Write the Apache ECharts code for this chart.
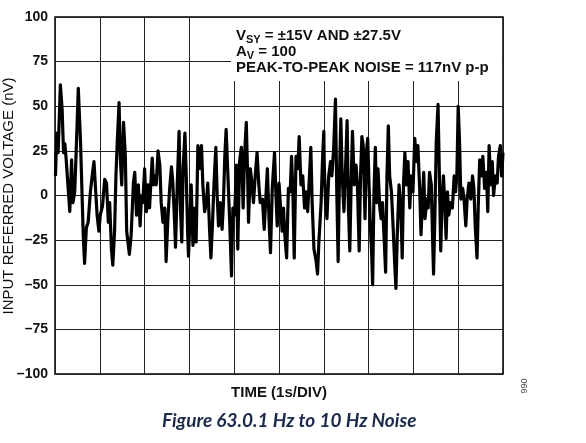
<!DOCTYPE html>
<html>
<head>
<meta charset="utf-8">
<script src="https://cdn.jsdelivr.net/npm/echarts@6/dist/echarts.min.js"></script>
<style>
  html, body { margin: 0; padding: 0; background: #fff; }
  #chart { width: 586px; height: 443px; }
</style>
</head>
<body>
<div id="chart"></div>
<script>
// time in seconds (1 s per division)
var timeS = [
  0.01, 0.04, 0.07, 0.12, 0.16, 0.19, 0.22, 0.25, 0.29, 0.33, 0.37, 0.40, 0.44, 0.48, 0.52, 0.57, 0.60, 0.63, 0.66, 0.70,
  0.74, 0.79, 0.84, 0.87, 0.90, 0.94, 0.98, 1.01, 1.06, 1.11, 1.15, 1.19, 1.22, 1.26, 1.29, 1.33, 1.36, 1.39, 1.43, 1.46,
  1.49, 1.53, 1.57, 1.60, 1.66, 1.70, 1.75, 1.78, 1.82, 1.86, 1.90, 1.93,
  1.96, 2.00, 2.04, 2.08, 2.11, 2.17, 2.20, 2.24, 2.26, 2.30, 2.34, 2.37, 2.41, 2.45, 2.48, 2.52, 2.56, 2.60, 2.63, 2.67,
  2.69, 2.73, 2.77, 2.80, 2.83, 2.86, 2.90, 2.93, 2.96, 2.98, 3.01, 3.04, 3.08, 3.12, 3.15, 3.19, 3.23, 3.27, 3.30, 3.34,
  3.38, 3.41, 3.45, 3.48, 3.51, 3.55, 3.59, 3.62, 3.65, 3.69, 3.73, 3.76, 3.79, 3.82, 3.86, 3.90, 3.94, 3.97,
  4.01, 4.05, 4.08, 4.12, 4.16, 4.20, 4.23, 4.27, 4.30, 4.32, 4.36, 4.40, 4.43, 4.47, 4.51, 4.55, 4.58, 4.63, 4.67, 4.70,
  4.74, 4.78, 4.81, 4.85, 4.90, 4.93, 4.96, 5.00, 5.04, 5.07, 5.10, 5.13, 5.17, 5.21, 5.25, 5.28, 5.31, 5.34, 5.38, 5.42,
  5.45, 5.49, 5.53, 5.57, 5.60, 5.64, 5.68, 5.71, 5.74, 5.78, 5.83, 5.86, 5.89, 5.94, 5.97, 6.00,
  6.01, 6.04, 6.07, 6.11, 6.15, 6.18, 6.22, 6.26, 6.29, 6.32, 6.35, 6.38, 6.41, 6.45, 6.49, 6.52, 6.55, 6.58, 6.61, 6.64,
  6.68, 6.72, 6.75, 6.79, 6.82, 6.85, 6.88, 6.92, 6.95, 6.98, 7.01, 7.04, 7.07, 7.09, 7.12, 7.15, 7.18, 7.21, 7.25, 7.28,
  7.31, 7.35, 7.38, 7.41, 7.44, 7.47, 7.51, 7.55, 7.58, 7.61, 7.64, 7.68, 7.72, 7.75, 7.78, 7.81, 7.84, 7.88, 7.92, 7.95, 7.99,
  8.03, 8.07, 8.10, 8.14, 8.17, 8.20, 8.23, 8.26, 8.30, 8.33, 8.36, 8.40, 8.43, 8.45, 8.48, 8.51, 8.55, 8.58, 8.61, 8.64,
  8.67, 8.70, 8.73, 8.76, 8.79, 8.83, 8.87, 8.91, 8.94, 8.97, 9.00, 9.03, 9.06, 9.10, 9.13, 9.17, 9.20, 9.24, 9.28, 9.32,
  9.35, 9.38, 9.42, 9.45, 9.48, 9.52, 9.55, 9.59, 9.63, 9.66, 9.69, 9.73, 9.76, 9.79, 9.83, 9.87, 9.90, 9.94, 9.97, 10.00
];
// input referred voltage (nV)
var noiseNV = [
  11, 35, 24, 62, 48, 24, 29, 20, 19, -9, 20, -4, 2, 30, 60, 30, 4, -22, -38, -18,
  -15, 2, 13, 19, 6, -11, -20, -11, -6, 9, 7, -15, -4, -30, -39, -20, 11, 30, 52, 20,
  6, 41, 22, -20, -33, -22, 7, 13, -11, 6, -17, 0,
  -4, 15, -9, 6, -7, 21, 6, 11, 6, 25, 17, -4, -15, -7, -37, -13, 4, 16, 7, -15,
  -29, 7, 36, -7, -26, 15, 35, 11, -20, -34, -15, 6, -28, -7, -26, 28, 15, 28, 6, -9,
  -4, 7, -19, -35, -19, 7, 27, 0, -17, -4, -19, -4, 22, 37, 11, -15, -45, -7,
  -11, 17, -30, 19, 27, -7, 22, 41, 11, -15, 15, 6, -4, 11, 24, 6, -4, -2, -19, -20,
  15, -15, -32, 4, 24, 2, -17, 7, 6, -20, -7, -22, -35, 4, 2, 22, 2, -35, 22, 15,
  33, 6, 11, -7, 2, -9, 11, 27, -4, -30, -37, -44, -26, -4, 19, 36,
  17, -4, -13, 11, 19, 11, 26, 54, 2, -37, 11, 43, 11, -9, 19, 42, -7, -31, 6, 36,
  6, 17, 6, -31, 11, 33, 28, -13, 24, 32, 6, -17, -34, -50, 2, 27, -4, 15, -7, -13,
  -4, -26, -43, 11, 39, 11, 2, -19, -37, -52, -22, 6, -7, -35, 7, 24, 6, 19, -7, 11, 2,
  32, 19, 28, 4, -22, -4, 13, -13, -2, -7, 13, 6, -26, -44, -11, 30, 51, 11, -31, -4,
  11, -4, -24, 2, -11, -4, -7, 11, 2, 11, 50, 30, -2, 4, -2, -17, -2, 7, -2, 11,
  4, -17, -35, -4, 20, 11, 22, 4, 13, -9, 28, 6, 19, 0, 11, 7, 22, 28, 11, 24
];
var yTicks = ['\u2013100', '\u201375', '\u201350', '\u201325', '0', '25', '50', '75', '100'];

var points = timeS.map(function (t, i) { return [t, noiseNV[i]]; });

var chart = echarts.init(document.getElementById('chart'), null, { renderer: 'canvas' });
var font = '"Liberation Sans", Arial, sans-serif';

var option = {
    animation: false,
    backgroundColor: '#fff',
    grid: {
        left: 55, right: 83, top: 17, bottom: 69, outerBoundsMode: 'none', containLabel: false,
        show: true, borderColor: '#000', borderWidth: 1.5, backgroundColor: 'transparent'
    },
    xAxis: {
        type: 'value', min: 0, max: 10, interval: 1,
        name: 'TIME (1s/DIV)', nameLocation: 'middle', nameGap: 11,
        nameTextStyle: { fontFamily: font, fontWeight: 'bold', fontSize: 15, color: '#111' },
        axisLine: { show: false }, axisTick: { show: false }, axisLabel: { show: false },
        splitLine: { show: true, lineStyle: { color: '#222', width: 1 } }
    },
    yAxis: {
        type: 'value', min: -100, max: 100, interval: 25,
        axisLine: { show: false }, axisTick: { show: false },
        axisLabel: {
            fontFamily: font, fontWeight: 'bold', fontSize: 14, color: '#111', margin: 7,
            formatter: function (v) { return yTicks[(v + 100) / 25]; }
        },
        splitLine: { show: true, lineStyle: { color: '#222', width: 1 } }
    },
    graphic: [
        {
            // y axis title, placed by hand so it hugs the left edge like the original
            type: 'text', z: 11, x: 9, y: 196, rotation: Math.PI / 2,
            style: { text: 'INPUT REFERRED VOLTAGE (nV)', fontFamily: font, fontSize: 15, fill: '#111', align: 'center', verticalAlign: 'middle' }
        },
        { type: 'rect', z: 10, shape: { x: 231, y: 18, width: 271, height: 63 }, style: { fill: '#fff' } },
        {
            type: 'text', z: 11, left: 236, top: 27,
            style: {
                text: '{b|V}{s|SY}{b| = \u00b115V AND \u00b127.5V}\n{b|A}{s|V}{b| = 100}\n{b|PEAK-TO-PEAK NOISE = 117nV p-p}',
                rich: {
                    b: { fontFamily: font, fontWeight: 'bold', fontSize: 15, fill: '#111', lineHeight: 16, verticalAlign: 'top' },
                    s: { fontFamily: font, fontWeight: 'bold', fontSize: 11, fill: '#111', lineHeight: 16, padding: [7, 0, 0, 0] }
                }
            }
        },
        {
            type: 'text', z: 11, x: 523, y: 386, rotation: -Math.PI / 2,
            style: { text: '066', fontFamily: font, fontSize: 9, fill: '#444', align: 'center', verticalAlign: 'middle' }
        },
        {
            type: 'text', z: 11, left: 162, top: 411,
            style: { text: 'Figure 63.0.1 Hz to 10 Hz Noise', fontFamily: 'Lato, "Open Sans", sans-serif', fontStyle: 'italic', fontWeight: 'bold', fontSize: 19, fill: '#1b2a4a' }
        }
    ],
    series: [{
        type: 'line', data: points, showSymbol: false, smooth: false,
        lineStyle: { color: '#000', width: 3.2, join: 'round' }, z: 5
    }]
};
chart.setOption(option);
</script>
</body>
</html>
